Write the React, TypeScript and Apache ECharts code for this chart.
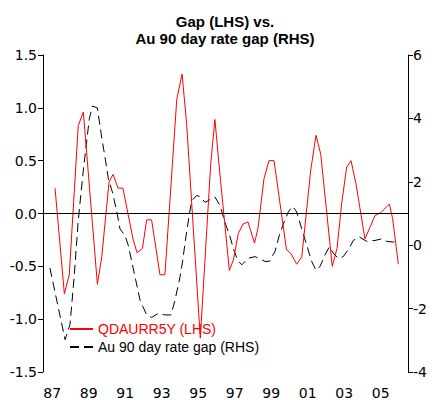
import React, { useEffect, useRef } from "react";
import * as echarts from "echarts";

const yearLabels = ["87","88","89","90","91","92","93","94","95","96","97","98","99","00","01","02","03","04","05","06"];

const gapTimes = [1987.66,1988.17,1988.44,1988.93,1989.21,1989.98,1990.22,1990.62,1990.84,1991.11,1991.38,1991.93,1992.15,1992.45,1992.68,1992.95,1993.41,1993.68,1994.33,1994.62,1994.87,1995.62,1996.19,1996.42,1996.64,1997.21,1997.43,1997.70,1997.96,1998.23,1998.59,1998.78,1999.11,1999.38,1999.66,2000.34,2000.59,2000.90,2001.18,2001.67,2001.96,2002.22,2002.85,2003.11,2003.37,2003.64,2003.88,2004.15,2004.64,2004.92,2005.19,2005.52,2005.98,2006.16,2006.47];
const gapValues = [0.24,-0.76,-0.58,0.83,0.96,-0.67,-0.41,0.30,0.37,0.24,0.24,-0.24,-0.37,-0.33,-0.06,-0.06,-0.58,-0.58,1.08,1.32,0.85,-1.18,0.47,0.89,0.47,-0.54,-0.44,-0.19,-0.10,-0.08,-0.28,-0.14,0.33,0.50,0.50,-0.34,-0.38,-0.48,-0.41,0.41,0.74,0.56,-0.50,-0.33,0.10,0.44,0.50,0.28,-0.24,-0.13,-0.02,0.01,0.09,-0.05,-0.48];

const rateTimes = [1987.38,1988.21,1988.48,1988.70,1988.93,1989.21,1989.54,1989.72,1989.98,1990.22,1990.40,1990.58,1990.82,1991.07,1991.22,1991.49,1991.67,1992.32,1992.68,1992.95,1993.32,1993.68,1994.01,1994.23,1994.51,1994.65,1994.84,1995.02,1995.15,1995.42,1995.64,1995.88,1996.42,1996.70,1996.97,1997.25,1997.43,1997.65,1997.89,1998.25,1998.62,1999.16,1999.40,1999.71,1999.95,2000.17,2000.44,2000.68,2000.90,2001.18,2001.45,2001.72,2001.96,2002.18,2002.45,2002.69,2002.91,2003.18,2003.45,2003.78,2004.00,2004.33,2004.74,2005.19,2005.56,2005.83,2006.19,2006.47];
const rateValues = [-0.72,-2.98,-2.5,-1.05,0.77,2.37,4.0,4.39,4.33,3.38,2.77,2.1,1.64,0.98,0.51,0.31,0.0,-1.74,-2.2,-2.28,-2.15,-2.2,-2.2,-1.74,-1.0,-0.5,0.31,0.98,1.4,1.57,1.52,1.35,1.52,1.25,0.72,0.26,-0.1,-0.46,-0.62,-0.41,-0.36,-0.51,-0.51,-0.2,0.31,0.67,1.05,1.23,1.05,0.51,0.0,-0.51,-0.79,-0.67,-0.31,-0.05,-0.26,-0.41,-0.36,-0.1,0.15,0.26,0.12,0.15,0.2,0.12,0.1,0.15];

const gapName = "QDAURR5Y (LHS)";
const rateName = "Au 90 day rate gap (RHS)";
const titleLines = ["Gap (LHS) vs.", "Au 90 day rate gap (RHS)"];

export default function App() {
  const ref = useRef<HTMLDivElement>(null);
  useEffect(() => {
    if (!ref.current) return;
    const chart = echarts.init(ref.current, undefined, { renderer: "svg" });
    const axisFont = { fontFamily: "DejaVu Sans", fontSize: 14, color: "#000" };
    const titleStyle = { fontFamily: "Liberation Sans", fontWeight: "bold", fontSize: 15, color: "#000" };
    chart.setOption({
      animation: false,
      backgroundColor: "#fff",
      title: [
        { text: titleLines[0], left: 225, textAlign: "center", top: 14, padding: 0, textStyle: titleStyle },
        { text: titleLines[1], left: 225, textAlign: "center", top: 31, padding: 0, textStyle: titleStyle },
      ],
      legend: {
        orient: "vertical",
        left: 69,
        top: 322,
        padding: 0,
        itemWidth: 23,
        itemHeight: 14,
        itemGap: 4,
        itemStyle: { opacity: 0 },
        textStyle: { fontFamily: "Liberation Sans", fontSize: 14, lineHeight: 14 },
        data: [
          { name: gapName, textStyle: { color: "#ff0000" } },
          { name: rateName, textStyle: { color: "#000" } },
        ],
      },
      grid: { left: 43, right: 24, top: 55, bottom: 20, containLabel: false },
      xAxis: [
        {
          type: "category",
          data: yearLabels,
          boundaryGap: true,
          axisLine: { lineStyle: { color: "#000", width: 1 } },
          axisTick: { interval: 0, length: 5, lineStyle: { color: "#000" } },
          axisLabel: { ...axisFont, interval: 1, margin: 14 },
          splitLine: { show: false },
        },
        { type: "value", min: 1987, max: 2007, show: false },
      ],
      yAxis: [
        {
          type: "value",
          min: -1.5,
          max: 1.5,
          interval: 0.5,
          position: "left",
          axisLine: { show: true, lineStyle: { color: "#000", width: 1 } },
          axisTick: { show: true, length: 5, lineStyle: { color: "#000" } },
          axisLabel: { ...axisFont, margin: 6, formatter: (v: number) => v.toFixed(1) },
          splitLine: { show: false },
        },
        {
          type: "value",
          min: -4,
          max: 6,
          interval: 2,
          position: "right",
          axisLine: { show: true, lineStyle: { color: "#000", width: 1 } },
          axisTick: { show: true, length: 5, lineStyle: { color: "#000" } },
          axisLabel: { ...axisFont, margin: 5 },
          splitLine: { show: false },
        },
      ],
      series: [
        {
          name: gapName,
          type: "line",
          xAxisIndex: 1,
          yAxisIndex: 0,
          symbol: "none",
          data: gapTimes.map((t, i) => [t, gapValues[i]]),
          lineStyle: { color: "#ff0000", width: 1 },
          itemStyle: { color: "#ff0000" },
          markLine: {
            silent: true,
            symbol: ["none", "none"],
            label: { show: false },
            lineStyle: { color: "#000", width: 1, type: "solid" },
            data: [{ yAxis: 0 }],
          },
          z: 3,
        },
        {
          name: rateName,
          type: "line",
          xAxisIndex: 1,
          yAxisIndex: 1,
          symbol: "none",
          data: rateTimes.map((t, i) => [t, rateValues[i]]),
          lineStyle: { color: "#000", width: 1, type: [9, 5] },
          itemStyle: { color: "#000" },
          z: 2,
        },
      ],
    });
    return () => chart.dispose();
  }, []);
  return <div ref={ref} style={{ position: "fixed", left: 0, top: 0, width: 432, height: 400 }} />;
}
